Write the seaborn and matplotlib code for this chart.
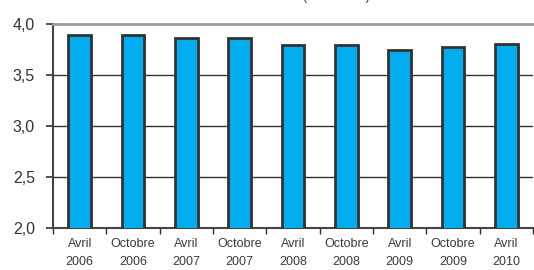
import pandas as pd
import matplotlib.pyplot as plt
import matplotlib.patheffects as pe
import seaborn as sns

# Values
periodes = ["Avril\n2006", "Octobre\n2006", "Avril\n2007", "Octobre\n2007", "Avril\n2008",
            "Octobre\n2008", "Avril\n2009", "Octobre\n2009", "Avril\n2010"]
valeurs = [3.89, 3.89, 3.86, 3.86, 3.79, 3.79, 3.75, 3.77, 3.80]
yticks = [2.0, 2.5, 3.0, 3.5, 4.0]
ytick_labels = ["2,0", "2,5", "3,0", "3,5", "4,0"]

df = pd.DataFrame({"periode": periodes, "valeur": valeurs})

sns.set_style("white")
plt.rcParams["font.family"] = ["Liberation Sans", "DejaVu Sans"]

fig = plt.figure(figsize=(5.34, 2.70), dpi=100)
ax = fig.add_axes([53 / 534, 1 - 228 / 270, 480 / 534, 204 / 270])

sns.barplot(data=df, x="periode", y="valeur", color="#00AEEF", width=0.42,
            edgecolor="#333333", linewidth=2, saturation=1, ax=ax, zorder=3)
for bar in ax.patches:
    bar.set_path_effects([pe.SimplePatchShadow(offset=(1.5, -1), shadow_rgbFace="#bbbbbb", alpha=1),
                          pe.Normal()])

ax.set_ylim(2.0, 4.0)
ax.set_xlim(-0.5, len(periodes) - 0.5)
ax.set_yticks(yticks)
ax.set_yticklabels(ytick_labels)
for y in [2.5, 3.0, 3.5]:
    ax.axhline(y, color="#333333", lw=1, zorder=1)

ax.set_xlabel("")
ax.set_ylabel("")
ax.set_xticks(range(len(periodes)))
ax.set_xticklabels(periodes, fontsize=9, color="#3a3a3a", linespacing=1.65)
ax.set_xticks([i - 0.5 for i in range(len(periodes) + 1)], minor=True)
ax.tick_params(axis="x", which="major", length=0, pad=7)
ax.tick_params(axis="x", which="minor", direction="out", length=4, width=1, color="#333333", bottom=True)
ax.tick_params(axis="y", direction="out", length=5, width=1.2, color="#333333", pad=8,
               labelsize=11.5, labelcolor="#333333", left=True)

for side in ["left", "bottom"]:
    ax.spines[side].set_color("#444444")
    ax.spines[side].set_linewidth(1.5)
ax.spines["top"].set_color("#a39893")
ax.spines["top"].set_linewidth(2)
ax.spines["right"].set_visible(False)

# Title is cut off at the top of the reference; only parentheses descenders show
fig.text(303 / 534, 1.0, "(en années)", ha="left", va="baseline", fontsize=9, color="#333333")

fig.savefig("out.png", dpi=100)
